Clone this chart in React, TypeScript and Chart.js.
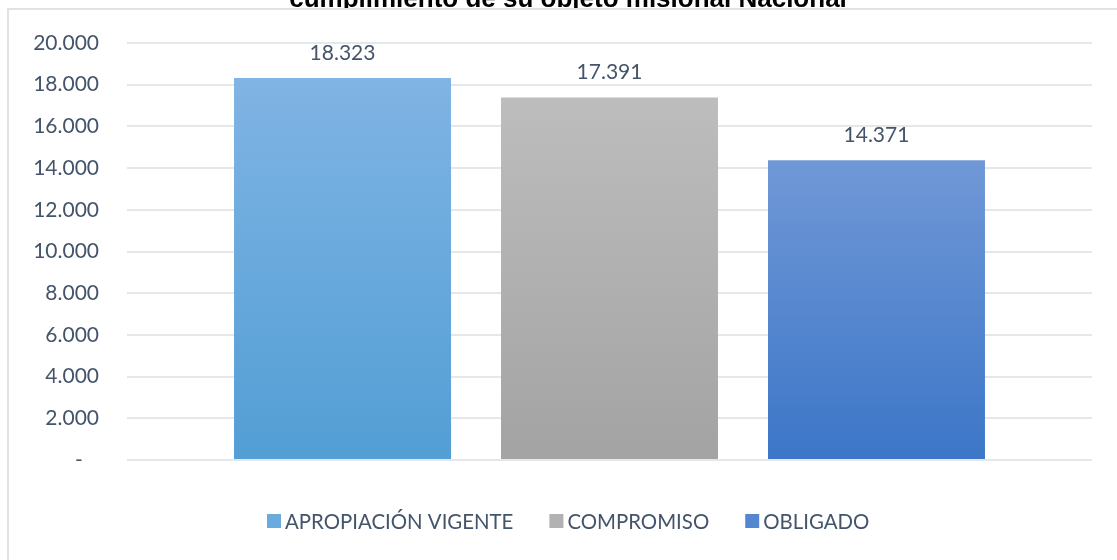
import React, { useEffect, useRef } from "react";
import { Chart, registerables } from "chart.js";

Chart.register(...registerables);

const chartTitle = "cumplimiento de su objeto misional Nacional";
const categories = ["Nacional"];
const seriesNames = ["APROPIACIÓN VIGENTE", "COMPROMISO", "OBLIGADO"];
const seriesValues = [18323, 17391, 14371];
const seriesTopColors = ["#80b4e4", "#bdbdbd", "#7098d6"];
const seriesBottomColors = ["#529ed5", "#a3a3a3", "#3c76c7"];
const seriesLegendColors = ["#6aaadf", "#b2b2b2", "#5587d0"];
const yMin = 0;
const yMax = 20000;
const yStep = 2000;

const FONT = "Lato, 'Open Sans', sans-serif";
const TEXT_COLOR = "#44546a";

function fmt(v: number): string {
  return Math.round(v)
    .toString()
    .replace(/\B(?=(\d{3})+(?!\d))/g, ".");
}

export default function App() {
  const canvasRef = useRef<HTMLCanvasElement | null>(null);

  useEffect(() => {
    const canvas = canvasRef.current;
    if (!canvas) return;

    const framePlugin = {
      id: "frame",
      beforeDraw(chart: any) {
        const c = chart.ctx;
        c.save();
        c.fillStyle = "#ffffff";
        c.fillRect(0, 0, chart.width, chart.height);
        // clipped title above the frame
        c.beginPath();
        c.rect(0, 0, chart.width, 8);
        c.clip();
        c.fillStyle = "#000000";
        c.font = "bold 26px 'Liberation Sans', Arial, sans-serif";
        c.textAlign = "center";
        c.textBaseline = "alphabetic";
        c.fillText(chartTitle, 568, 6.5);
        c.restore();
        c.save();
        c.strokeStyle = "#dfe2e6";
        c.lineWidth = 2;
        c.beginPath();
        c.moveTo(8, chart.height + 5);
        c.lineTo(8, 9);
        c.lineTo(chart.width + 5, 9);
        c.stroke();
        c.restore();
      },
    };

    const labelPlugin = {
      id: "valueLabels",
      afterDatasetsDraw(chart: any) {
        const c = chart.ctx;
        c.save();
        c.font = `21px ${FONT}`;
        c.fillStyle = TEXT_COLOR;
        c.textAlign = "center";
        c.textBaseline = "alphabetic";
        chart.data.datasets.forEach((ds: any, i: number) => {
          const meta = chart.getDatasetMeta(i);
          meta.data.forEach((bar: any, j: number) => {
            c.fillText(fmt(ds.data[j]), bar.x, bar.y - 18);
          });
        });
        c.restore();
      },
    };

    const legendPlugin = {
      id: "customLegend",
      afterDraw(chart: any) {
        const c = chart.ctx;
        c.save();
        c.font = `20.4px ${FONT}`;
        c.textBaseline = "middle";
        c.textAlign = "left";
        let x = 267;
        const yMid = 522;
        const box = 14;
        chart.data.datasets.forEach((ds: any, i: number) => {
          c.fillStyle = seriesLegendColors[i];
          c.fillRect(x, yMid - box / 2 - 1, box, box);
          c.fillStyle = TEXT_COLOR;
          const tx = x + box + 4;
          c.fillText(ds.label, tx, yMid);
          x = tx + c.measureText(ds.label).width + 36;
        });
        c.restore();
      },
    };

    const chart = new Chart(canvas, {
      type: "bar",
      data: {
        labels: categories,
        datasets: seriesNames.map((name, i) => ({
          label: name,
          data: [seriesValues[i]],
          borderWidth: 0,
          categoryPercentage: 0.83,
          barPercentage: 0.8127,
          backgroundColor: (ctx: any) => {
            const ch = ctx.chart;
            const area = ch.chartArea;
            if (!area || ctx.type !== "data") return seriesLegendColors[i];
            const top = ch.scales.y.getPixelForValue(ctx.raw as number);
            const g = ch.ctx.createLinearGradient(0, top, 0, area.bottom);
            g.addColorStop(0, seriesTopColors[i]);
            g.addColorStop(1, seriesBottomColors[i]);
            return g;
          },
        })),
      },
      options: {
        responsive: false,
        animation: false,
        layout: { padding: { top: 43, right: 25, bottom: 100, left: 0 } },
        plugins: {
          legend: { display: false },
          title: { display: false },
          tooltip: { enabled: false },
        },
        scales: {
          x: { display: false, offset: true },
          y: {
            min: yMin,
            max: yMax,
            border: { display: false },
            grid: { color: "#e4e7eb", lineWidth: 2, drawTicks: false },
            ticks: {
              stepSize: yStep,
              padding: 28,
              color: TEXT_COLOR,
              font: { family: FONT, size: 21 },
              callback: (v: any) => (Number(v) === 0 ? "-   " : fmt(Number(v))),
            },
            afterFit(scale: any) {
              scale.width = 127;
            },
          },
        },
      },
      plugins: [framePlugin, labelPlugin, legendPlugin],
    });

    return () => chart.destroy();
  }, []);

  return (
    <div style={{ position: "absolute", left: 0, top: 0, width: 1117, height: 560 }}>
      <canvas ref={canvasRef} width={1117} height={560} />
    </div>
  );
}
